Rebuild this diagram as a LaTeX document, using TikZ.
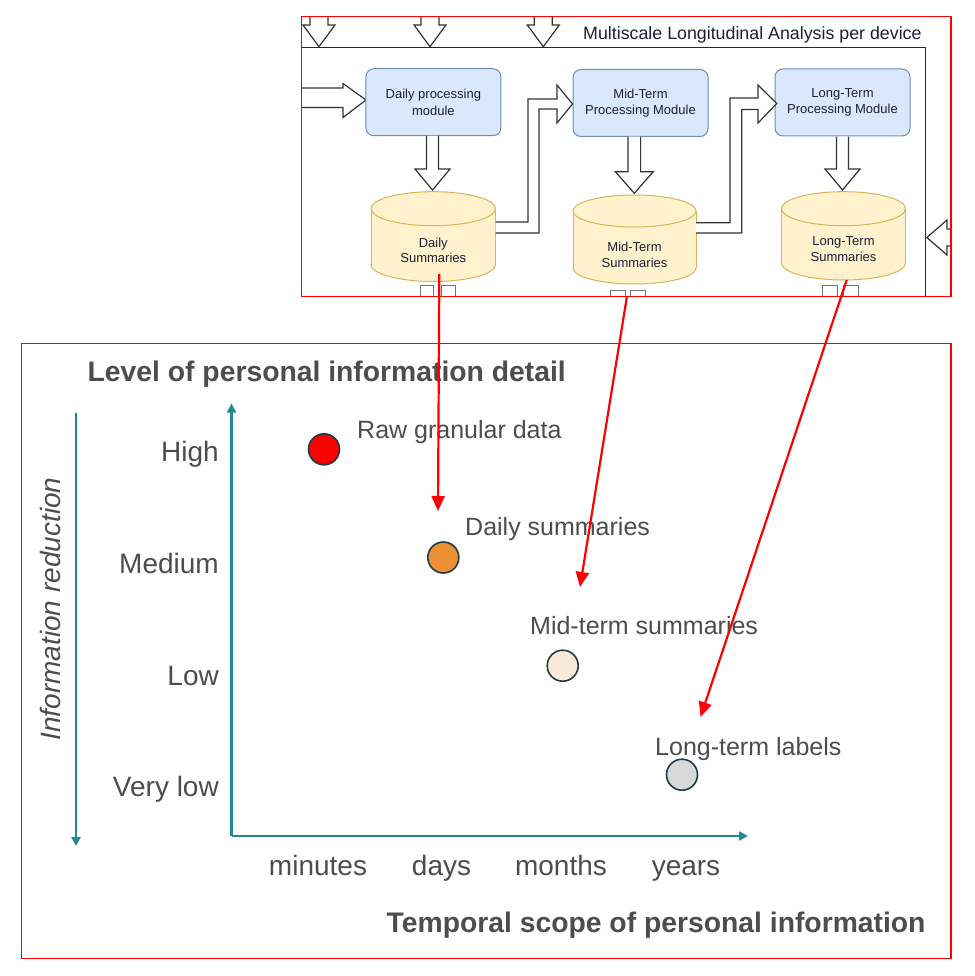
\documentclass[tikz,border=0pt]{standalone}
\usepackage{fontspec}
\setmainfont{Liberation Sans}
\usetikzlibrary{arrows.meta}
\definecolor{teal1}{RGB}{33,137,143}
\definecolor{txtgray}{RGB}{77,77,77}
\definecolor{boxfill}{HTML}{DAE8FC}
\definecolor{boxline}{HTML}{6C8EBF}
\definecolor{cylfill}{HTML}{FFF2CC}
\definecolor{cylline}{HTML}{D6B656}
\definecolor{navy}{RGB}{30,30,55}
\definecolor{ptline}{RGB}{29,60,69}
\definecolor{orange1}{HTML}{ED8F33}
\definecolor{peach}{HTML}{FBE9D7}
\definecolor{gray1}{HTML}{D9D9D9}
\newcommand{\drawcyl}[5]{%
  \path[fill=cylfill,draw=cylline,line width=1pt] ({(#1+#2)/2},{#4-#5}) ellipse [x radius={(#2-#1)/2}, y radius=#5];
  \fill[cylfill] (#1,{#3+#5}) rectangle (#2,{#4-#5});
  \draw[cylline,line width=1pt] (#1,{#3+#5}) -- (#1,{#4-#5}) (#2,{#3+#5}) -- (#2,{#4-#5});
  \path[fill=cylfill,draw=cylline,line width=1pt] ({(#1+#2)/2},{#3+#5}) ellipse [x radius={(#2-#1)/2}, y radius=#5];
}
\newcommand{\hollowdown}[6]{%
  \draw[hollow] ({#1-#5},#2) -- ({#1-#5},#3) -- ({#1-#6},#3) -- (#1,#4) -- ({#1+#6},#3) -- ({#1+#5},#3) -- ({#1+#5},#2);
}
\begin{document}
\begin{tikzpicture}[x=1pt,y=-1pt,
 hollow/.style={draw=black!80, line width=1.2pt, fill=white, line join=miter},
 procbox/.style={draw=boxline, fill=boxfill, line width=1pt, rounded corners=8pt, minimum width=135pt, minimum height=67pt, align=center, font=\fontsize{13}{16.5}\selectfont, text=navy, inner sep=0pt},
 cyltext/.style={align=center, font=\fontsize{13}{15.5}\selectfont, text=navy, inner sep=0pt},
 stub/.style={draw=black!55, line width=1pt},
 frame/.style={draw=black!85, line width=1.3pt},
 redbox/.style={draw=red, line width=1.5pt},
 redarrow/.style={draw=red, line width=2.2pt, -{Triangle[length=15pt,width=13pt]}},
 axis/.style={draw=teal1, line width=2.2pt, -{Triangle[length=9pt,width=9pt]}},
 ylab/.style={anchor=base east, text=txtgray, font=\fontsize{28}{32}\selectfont, inner sep=0pt},
 xlab/.style={anchor=base, text=txtgray, font=\fontsize{28}{32}\selectfont, inner sep=0pt},
 plab/.style={anchor=base west, text=txtgray, font=\fontsize{25}{30}\selectfont, inner sep=0pt},
 pt/.style={circle, draw=ptline, line width=1.6pt, minimum size=31pt, inner sep=0pt},
 title/.style={text=txtgray, font=\fontsize{28.3}{32}\selectfont\bfseries, inner sep=0pt},
]
\useasboundingbox (0,0) rectangle (974,976);
\fill[white] (0,0) rectangle (974,976);

% ---------- top: screenshot of processing pipeline ----------
\begin{scope}
\clip (301.5,16.5) rectangle (951,296.5);
% incoming arrows from above
\hollowdown{319}{10}{25}{46.7}{9}{16}
\hollowdown{430}{10}{25}{46.7}{9}{16}
\hollowdown{543.3}{10}{25}{46.7}{9}{16}
% frame
\draw[frame] (301,47.7) -- (925.7,47.7) -- (925.7,300);
\node[anchor=base west, text=navy, font=\fontsize{17.8}{20}\selectfont, inner sep=0pt] (ttl) at (583,39.5) {Multiscale Longitudinal Analysis per device};
% left incoming arrow
\draw[hollow] (296,88) -- (343,88) -- (343,83.5) -- (366,100) -- (343,117.5) -- (343,107.5) -- (296,107.5);
% processing boxes
\node[procbox] (dpm) at (433.4,102.2) {Daily processing\\module};
\node[procbox] (mpm) at (640.5,103) {Mid-Term\\Processing Module};
\node[procbox] (lpm) at (842.5,102.5) {Long-Term\\Processing Module};
% down arrows to stores
\hollowdown{432.5}{136}{169}{190}{6}{17.5}
\hollowdown{634.3}{136.7}{171.7}{193.3}{6.3}{19}
\hollowdown{842.5}{136.7}{169}{190}{6}{17.5}
% cylinders
\drawcyl{371}{495.5}{191.7}{281.5}{17}
\drawcyl{573}{696}{195}{284}{16}
\drawcyl{781.5}{905.5}{191.7}{280}{17}
\node[cyltext] (dsum) at (433.3,250.5) {Daily\\Summaries};
\node[cyltext] (msum) at (634.5,254.7) {Mid-Term\\Summaries};
\node[cyltext] (lsum) at (843.5,249) {Long-Term\\Summaries};
% bent arrows between stages
\draw[hollow] (495.5,222) -- (528,222) -- (528,99) -- (557,99) -- (557,85) -- (572.5,104) -- (557,123) -- (557,109) -- (539,109) -- (539,233) -- (495.5,233);
\draw[hollow] (696,222.7) -- (730,222.7) -- (730,98) -- (758,98) -- (758,85) -- (776.7,103.5) -- (758,123) -- (758,109.5) -- (741.7,109.5) -- (741.7,233) -- (696,233);
% right incoming arrow
\draw[hollow] (955,229) -- (947,229) -- (947,220) -- (926.8,237.5) -- (947,255) -- (947,246) -- (955,246);
% stubs below stores
\draw[stub] (420.5,300) -- (420.5,285) -- (433.5,285) -- (433.5,300) (441.5,300) -- (441.5,285) -- (455,285) -- (455,300);
\draw[stub] (610,300) -- (610,290) -- (625,290) -- (625,300) (630,300) -- (630,290) -- (645,290) -- (645,300);
\draw[stub] (822,300) -- (822,285) -- (837,285) -- (837,300) (843,300) -- (843,285) -- (858,285) -- (858,300);
\end{scope}
\draw[redbox] (301.5,16.5) rectangle (951,296.5);

% ---------- bottom: chart ----------
\draw[redbox] (21.5,343.5) rectangle (951,958.5);
\node[title, anchor=base west] (ytitle) at (87.5,381.7) {Level of personal information detail};
\node[title, anchor=base west] (xtitle) at (386.5,932.5) {Temporal scope of personal information};
\node[anchor=base, rotate=90, text=txtgray, font=\fontsize{28}{32}\selectfont\itshape, inner sep=0pt] (ired) at (60.7,609) {Information reduction};

\coordinate (ared1) at (76,413);
\coordinate (ared2) at (76,846);
\draw[axis] (ared1) -- (ared2);
\coordinate (org) at (231.5,836);
\coordinate (ytip) at (231.5,403.5);
\coordinate (xtip) at (748,836);
\draw[axis] (org) -- (ytip);
\draw[axis] (org) -- (xtip);

\node[ylab] (lh) at (219,461) {High};
\node[ylab] (lm) at (219,573) {Medium};
\node[ylab] (ll) at (219,685) {Low};
\node[ylab] (lv) at (219,796) {Very low};

\node[xlab] (xm) at (318,875) {minutes};
\node[xlab] (xd) at (441.5,875) {days};
\node[xlab] (xmo) at (561,875) {months};
\node[xlab] (xy) at (686,875) {years};

\node[pt, fill=red] (p1) at (324,449.3) {};
\node[pt, fill=orange1] (p2) at (443.3,557.5) {};
\node[pt, fill=peach] (p3) at (562.7,665.7) {};
\node[pt, fill=gray1] (p4) at (682,774.7) {};

\node[plab] (t1) at (357,438.3) {Raw granular data};
\node[plab] (t2) at (465,535) {Daily summaries};
\node[plab] (t3) at (530,634) {Mid-term summaries};
\node[plab] (t4) at (655,755) {Long-term labels};

% ---------- red links ----------
\coordinate (r1s) at (439.3,274);
\coordinate (r1e) at (438,511);
\coordinate (r2s) at (627,296);
\coordinate (r2e) at (580,587);
\coordinate (r3s) at (846.7,280);
\coordinate (r3e) at (700.5,717);
\draw[redarrow] (r1s) -- (r1e);
\draw[redarrow] (r2s) -- (r2e);
\draw[redarrow] (r3s) -- (r3e);
\end{tikzpicture}
\end{document}
